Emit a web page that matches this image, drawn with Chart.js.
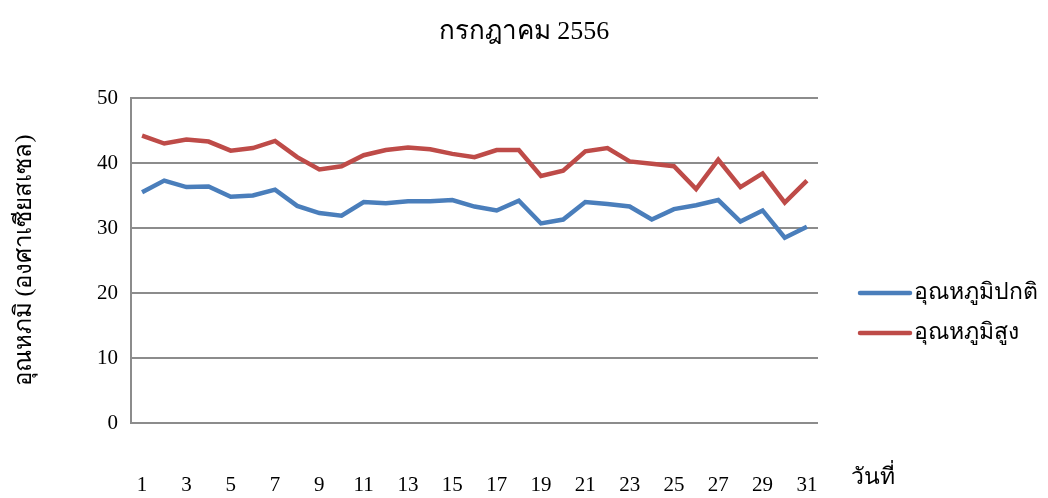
<!DOCTYPE html>
<html>
<head>
<meta charset="utf-8">
<script src="https://cdn.jsdelivr.net/npm/chart.js@4.4.0/dist/chart.umd.min.js"></script>
<style>
html,body{margin:0;padding:0;background:#fff;}
#wrap{width:1048px;height:498px;position:relative;}
</style>
</head>
<body>
<div id="wrap"><canvas id="c" width="1048" height="498"></canvas></div>
<script>
const days = Array.from({length:31},(_,i)=>String(i+1));
const normalTemp = [35.5,37.3,36.3,36.4,34.8,35.0,35.9,33.4,32.3,31.9,34.0,33.8,34.1,34.1,34.3,33.3,32.7,34.2,30.7,31.3,34.0,33.7,33.3,31.3,32.9,33.5,34.3,31.0,32.7,28.5,30.2];
const highTemp = [44.2,43.0,43.6,43.3,41.9,42.3,43.4,40.9,39.0,39.5,41.2,42.0,42.4,42.1,41.4,40.9,42.0,42.0,38.0,38.8,41.8,42.3,40.25,39.9,39.5,36.0,40.5,36.3,38.4,33.9,37.3];
const yTicks = [0,10,20,30,40,50];
const seriesNames = ['อุณหภูมิปกติ','อุณหภูมิสูง'];
const titleText = 'กรกฎาคม 2556';
const yTitle = 'อุณหภมิ (องศาเซียสเซล)';
const xTitle = 'วันที่';

const FONT = "'Liberation Serif', 'Times New Roman', serif";

const extras = {
  id:'extras',
  afterDraw(chart){
    const ctx = chart.ctx;
    ctx.save();
    ctx.fillStyle = '#000';
    ctx.font = '26px ' + FONT;
    ctx.textAlign = 'center';
    ctx.textBaseline = 'middle';
    ctx.fillText(titleText, 524, 32);

    const ys = [293,333];
    chart.data.datasets.forEach((ds,i)=>{
      ctx.strokeStyle = ds.borderColor;
      ctx.lineWidth = 4.5;
      ctx.lineCap = 'round';
      ctx.beginPath();
      ctx.moveTo(860, ys[i]);
      ctx.lineTo(910, ys[i]);
      ctx.stroke();
      ctx.fillStyle = '#000';
      ctx.font = '23px ' + FONT;
      ctx.textBaseline = 'middle';
      ctx.textAlign = 'left';
      ctx.fillText(ds.label, 914, ys[i]);
    });
    ctx.font = '23px ' + FONT;
    ctx.textAlign = 'left';
    ctx.textBaseline = 'alphabetic';
    ctx.fillText(xTitle, 851, 484);
    ctx.restore();
  }
};

new Chart(document.getElementById('c'), {
  type:'line',
  data:{
    labels: days,
    datasets:[
      {label:seriesNames[0], data:normalTemp, borderColor:'#4a7ebb', borderWidth:4.5, pointRadius:0, tension:0, fill:false},
      {label:seriesNames[1], data:highTemp, borderColor:'#be4b48', borderWidth:4.5, pointRadius:0, tension:0, fill:false}
    ]
  },
  options:{
    responsive:false,
    animation:false,
    layout:{padding:{left:0,right:230,top:98,bottom:0}},
    plugins:{
      legend:{display:false},
      tooltip:{enabled:false},
      title:{display:false}
    },
    scales:{
      x:{
        offset:true,
        grid:{display:false, drawTicks:false},
        border:{display:false},
        ticks:{
          autoSkip:false, maxRotation:0, color:'#000', padding:50,
          font:{family:FONT, size:21},
          callback:function(v,i){ return (i%2===0) ? days[i] : ''; }
        },
        afterFit(s){ s.height = 75; }
      },
      y:{
        min:0, max:50,
        afterBuildTicks(s){ s.ticks = yTicks.map(v=>({value:v})); },
        grid:{color:'#8c8c8c', lineWidth:2, drawTicks:false},
        border:{display:true, color:'#8c8c8c', width:2},
        ticks:{color:'#000', padding:13, font:{family:FONT, size:21}},
        title:{display:true, text:yTitle, color:'#000', font:{family:FONT, size:24}, padding:{top:10,bottom:0}},
        afterFit(s){ s.width = 131; }
      }
    }
  },
  plugins:[extras]
});
</script>
</body>
</html>
